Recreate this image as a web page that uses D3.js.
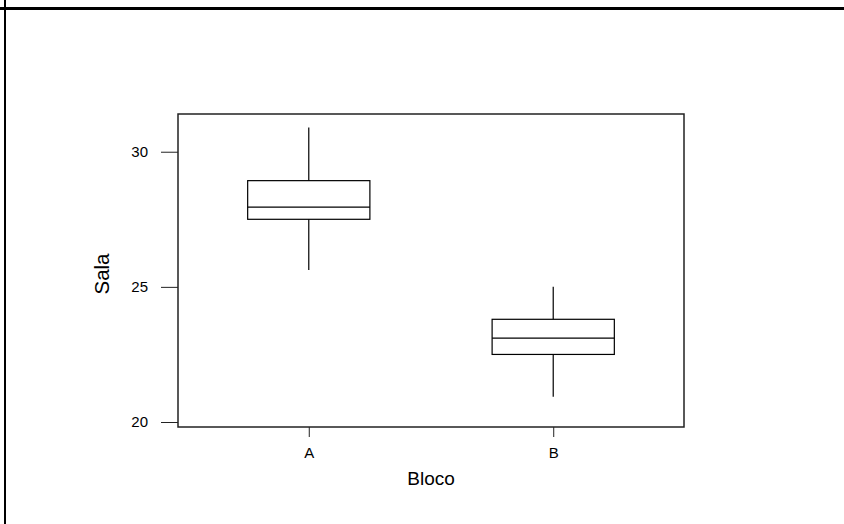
<!DOCTYPE html>
<html>
<head>
<meta charset="utf-8">
<script src="https://cdn.jsdelivr.net/npm/d3@7"></script>
<style>
  body { margin: 0; background: #fff; }
  text { font-family: "Liberation Sans", Arial, sans-serif; fill: #000; }
  .tick text { font-size: 15px; }
</style>
</head>
<body>
<div id="chart"></div>
<script>
// data
const categories = ["A", "B"];
const whiskerLow = [25.62, 20.93];
const q1 = [27.5, 22.5];
const median = [27.95, 23.1];
const q3 = [28.93, 23.8];
const whiskerHigh = [30.9, 25.0];
const yTicks = [20, 25, 30];

const W = 844, H = 524;
var margin = {top: 114, right: 160, bottom: 97, left: 178};

var svg = d3.select("#chart").append("svg")
    .attr("width", W)
    .attr("height", H);

// outer frame (top and left edges)
svg.append("line").attr("x1", 0).attr("x2", W).attr("y1", 8.5).attr("y2", 8.5)
   .attr("stroke", "#000").attr("stroke-width", 3);
svg.append("line").attr("x1", 5).attr("x2", 5).attr("y1", 0).attr("y2", H)
   .attr("stroke", "#000").attr("stroke-width", 2);

var x = d3.scalePoint()
    .domain(categories)
    .range([margin.left, W - margin.right])
    .padding(0.535);

var y = d3.scaleLinear()
    .domain([19.815, 31.396])
    .range([H - margin.bottom, margin.top]);

// plot frame
svg.append("rect")
   .attr("x", margin.left).attr("y", margin.top)
   .attr("width", W - margin.right - margin.left)
   .attr("height", H - margin.bottom - margin.top)
   .attr("fill", "none").attr("stroke", "#222").attr("stroke-width", 1.5);

// axes
var yaxis = svg.append("g")
   .attr("transform", `translate(${margin.left}, 0)`)
   .call(d3.axisLeft(y).tickValues(yTicks).tickSize(17).tickPadding(13).tickFormat(d3.format("d")));
yaxis.select(".domain").remove();

var xaxis = svg.append("g")
   .attr("transform", `translate(0, ${H - margin.bottom})`)
   .call(d3.axisBottom(x).tickSize(10).tickPadding(10));
xaxis.select(".domain").remove();

svg.selectAll(".tick line").attr("stroke", "#222");

// axis titles
svg.append("text")
   .attr("x", (margin.left + W - margin.right) / 2)
   .attr("y", 485)
   .attr("text-anchor", "middle")
   .attr("font-size", 19)
   .text("Bloco");

svg.append("text")
   .attr("transform", "translate(109, 274) rotate(-90)")
   .attr("text-anchor", "middle")
   .attr("font-size", 20.5)
   .text("Sala");

// boxes
var bw = x.step() * 0.5;
var boxes = svg.selectAll(".box")
   .data(categories)
   .enter().append("g")
   .attr("class", "box")
   .attr("stroke", "#000")
   .attr("stroke-width", 1.2)
   .attr("fill", "none");

// whiskers
boxes.append("line")
   .attr("x1", d => x(d)).attr("x2", d => x(d))
   .attr("y1", (d, i) => y(whiskerHigh[i])).attr("y2", (d, i) => y(q3[i]));
boxes.append("line")
   .attr("x1", d => x(d)).attr("x2", d => x(d))
   .attr("y1", (d, i) => y(q1[i])).attr("y2", (d, i) => y(whiskerLow[i]));

boxes.append("rect")
   .attr("x", d => x(d) - bw / 2)
   .attr("width", bw)
   .attr("y", (d, i) => y(q3[i]))
   .attr("height", (d, i) => y(q1[i]) - y(q3[i]));

boxes.append("line")
   .attr("x1", d => x(d) - bw / 2).attr("x2", d => x(d) + bw / 2)
   .attr("y1", (d, i) => y(median[i])).attr("y2", (d, i) => y(median[i]));
</script>
</body>
</html>
